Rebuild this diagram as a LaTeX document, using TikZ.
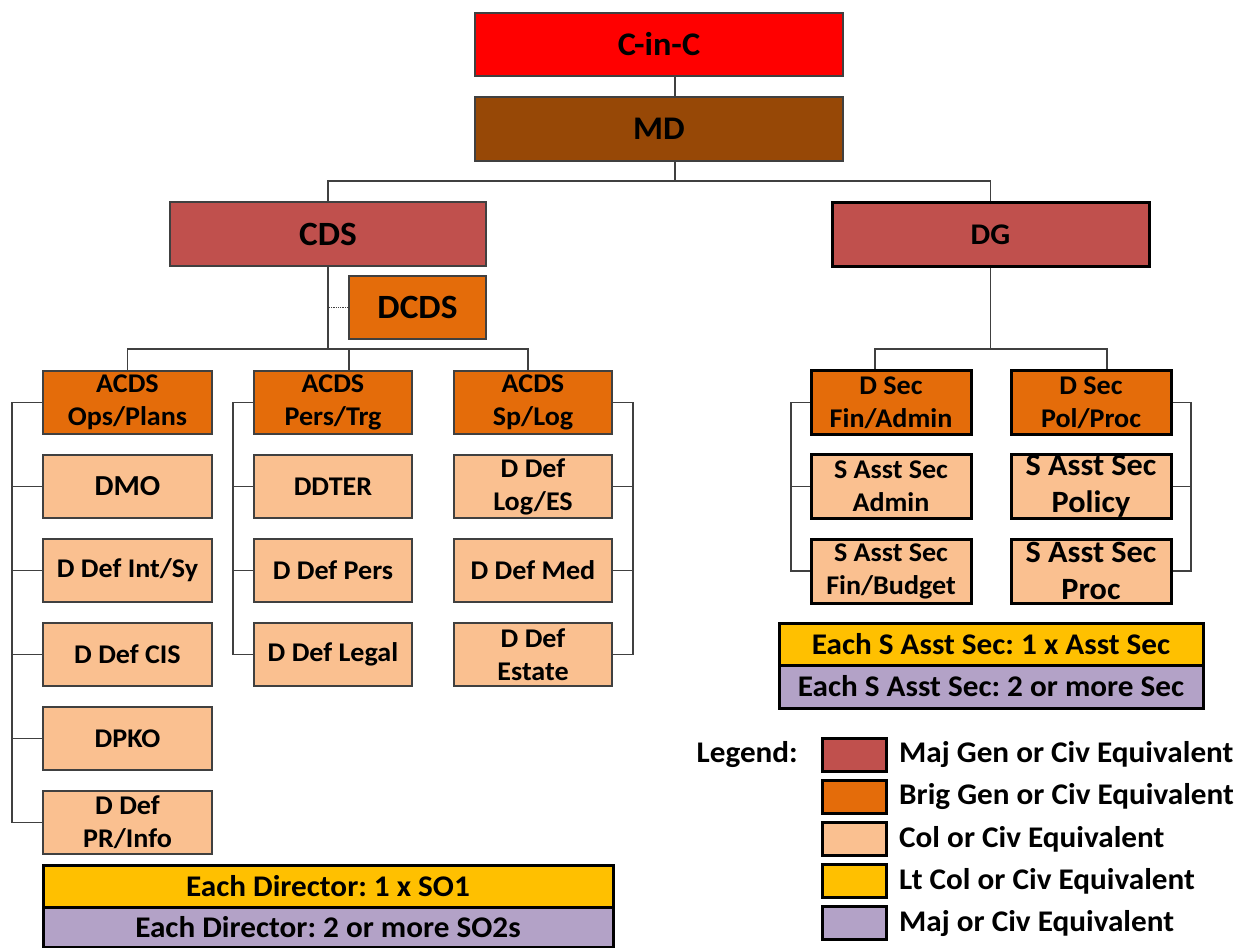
\documentclass[tikz,border=0pt]{standalone}
\usepackage{fontspec}
\setmainfont{Carlito}[FakeStretch=1.04]
\frenchspacing
\definecolor{cred}{HTML}{FF0000}
\definecolor{cbrown}{HTML}{974806}
\definecolor{cmaj}{HTML}{C0504D}
\definecolor{corange}{HTML}{E46C0A}
\definecolor{clight}{HTML}{FAC090}
\definecolor{cyellow}{HTML}{FFC000}
\definecolor{cpurple}{HTML}{B3A2C7}
\definecolor{lineg}{HTML}{404040}
\newcommand\myfs[2]{\fontsize{#1}{#2}\selectfont}
\tikzset{
  box/.style={draw=lineg, line width=1.3pt, inner sep=0pt, align=center, font=\bfseries\myfs{27}{33}},
  tbox/.style={box, draw=black, line width=3pt},
  conn/.style={draw=lineg, line width=1.3pt},
  lcol/.style={box, fill=clight, minimum width=169pt, minimum height=63pt},
  mcol/.style={box, fill=clight, minimum width=158pt, minimum height=63pt},
  scol/.style={tbox, fill=clight, minimum width=160pt, minimum height=64pt},
  swatch/.style={draw=black, line width=3pt, minimum width=64pt, minimum height=33pt, inner sep=0pt},
  legtxt/.style={anchor=west, inner sep=0pt, font=\bfseries\myfs{30}{36}}
}
\begin{document}
\begin{tikzpicture}[x=1pt,y=-1pt]
\useasboundingbox (0,0) rectangle (1254,948);
% top
\node[box, fill=cred, minimum width=368pt, minimum height=63pt, font=\bfseries\myfs{33}{40}] (cinc) at (659,44.5) {C-in-C};
\node[box, fill=cbrown, minimum width=368pt, minimum height=64pt, font=\bfseries\myfs{33}{40}] (md) at (659,129) {MD};
\node[box, fill=cmaj, minimum width=316pt, minimum height=64pt, font=\bfseries\myfs{34}{40}] (cds) at (328,234) {CDS};
\node[tbox, fill=cmaj, minimum width=317pt, minimum height=64pt, font=\bfseries\myfs{30}{36}] (dg) at (990.5,234.5) {DG};
\node[box, fill=corange, minimum width=137pt, minimum height=63pt, font=\bfseries\myfs{34}{40}] (dcds) at (417.5,307.5) {DCDS};
% ACDS
\node[lcol, fill=corange] (a1) at (127.5,402.5) {ACDS\\Ops/Plans};
\node[mcol, fill=corange] (a2) at (333,402.5) {ACDS\\Pers/Trg};
\node[mcol, fill=corange] (a3) at (533,402.5) {ACDS\\Sp/Log};
% left column
\node[lcol, font=\bfseries\myfs{29}{36}] (l1) at (127.5,486.5) {DMO};
\node[lcol] (l2) at (127.5,570.5) {D Def Int/Sy};
\node[lcol] (l3) at (127.5,654.5) {D Def CIS};
\node[lcol] (l4) at (127.5,738.5) {DPKO};
\node[lcol] (l5) at (127.5,822.5) {D Def\\PR/Info};
% middle column
\node[mcol] (m1) at (333,486.5) {DDTER};
\node[mcol] (m2) at (333,570.5) {D Def Pers};
\node[mcol] (m3) at (333,654.5) {D Def Legal};
% right column
\node[mcol] (r1) at (533,486.5) {D Def\\Log/ES};
\node[mcol] (r2) at (533,570.5) {D Def Med};
\node[mcol] (r3) at (533,654.5) {D Def\\Estate};
% DG side
\node[scol, fill=corange] (s1) at (891,402.5) {D Sec\\Fin/Admin};
\node[scol, fill=corange] (s2) at (1091,402.5) {D Sec\\Pol/Proc};
\node[scol] (t1) at (891,486.5) {S Asst Sec\\Admin};
\node[scol] (t2) at (891,571) {S Asst Sec\\Fin/Budget};
\node[scol, font=\bfseries\myfs{31}{37}] (u1) at (1091,486.5) {S Asst Sec\\Policy};
\node[scol, font=\bfseries\myfs{31}{37}] (u2) at (1091,571) {S Asst Sec\\Proc};
% bars
\node[tbox, fill=cyellow, minimum width=570pt, minimum height=42pt, font=\bfseries\myfs{30}{36}] (by1) at (328,886) {Each Director: 1 x SO1};
\node[tbox, fill=cpurple, minimum width=570pt, minimum height=40pt, font=\bfseries\myfs{30}{36}] (bp1) at (328,927) {Each Director: 2 or more SO2s};
\node[tbox, fill=cyellow, minimum width=424pt, minimum height=42pt, font=\bfseries\myfs{30}{36}] (by2) at (991,644) {Each S Asst Sec: 1 x Asst Sec};
\node[tbox, fill=cpurple, minimum width=424pt, minimum height=43pt, font=\bfseries\myfs{30}{36}] (bp2) at (991,686.5) {Each S Asst Sec: 2 or more Sec};
% legend
\node[anchor=east, inner sep=0pt, font=\bfseries\myfs{30}{36}] (leg) at (798,755) {Legend:};
\node[swatch, fill=cmaj] (w1) at (854,755) {};
\node[swatch, fill=corange] (w2) at (854,797) {};
\node[swatch, fill=clight] (w3) at (854,839) {};
\node[swatch, fill=cyellow] (w4) at (854,881) {};
\node[swatch, fill=cpurple] (w5) at (854,923) {};
\node[legtxt] (x1) at (899,755) {Maj Gen or Civ Equivalent};
\node[legtxt] (x2) at (899,797) {Brig Gen or Civ Equivalent};
\node[legtxt] (x3) at (899,839) {Col or Civ Equivalent};
\node[legtxt] (x4) at (899,881) {Lt Col or Civ Equivalent};
\node[legtxt] (x5) at (899,923) {Maj or Civ Equivalent};
% connector coordinates
\coordinate (mdx) at (675,181);
\coordinate (k2) at (349,349);
\coordinate (k3) at (528,349);
\coordinate (g1) at (875,349);
\coordinate (g2) at (1107,349);
\coordinate (lbx) at (12,0);
\coordinate (mbx) at (233,0);
\coordinate (rbx) at (633,0);
\coordinate (dlx) at (791,0);
\coordinate (drx) at (1191,0);
% connectors
\draw[conn] (cinc.south -| mdx) -- (md.north -| mdx);
\draw[conn] (md.south -| mdx) -- (mdx);
\draw[conn] (cds.north) |- (mdx) -| (dg.north);
\draw[conn] (cds.south) -- (cds.south |- k2);
\draw[conn] (a1.north) |- (k3) -- (a3.north -| k3);
\draw[conn] (k2) -- (a2.north -| k2);
\draw[conn, densely dotted] (dcds.west) -- (dcds.west -| cds.south);
\draw[conn] (dg.south) -- (dg.south |- g1);
\draw[conn] (s1.north -| g1) |- (g2) -- (s2.north -| g2);
% buses
\draw[conn] (a1.west) -| (l5.west -| lbx) -- (l5.west);
\foreach \n in {l1,l2,l3,l4} \draw[conn] (\n.west) -- (\n.west -| lbx);
\draw[conn] (a2.west) -| (m3.west -| mbx) -- (m3.west);
\foreach \n in {m1,m2} \draw[conn] (\n.west) -- (\n.west -| mbx);
\draw[conn] (a3.east) -| (r3.east -| rbx) -- (r3.east);
\foreach \n in {r1,r2} \draw[conn] (\n.east) -- (\n.east -| rbx);
\draw[conn] (s1.west) -| (t2.west -| dlx) -- (t2.west);
\draw[conn] (t1.west) -- (t1.west -| dlx);
\draw[conn] (s2.east) -| (u2.east -| drx) -- (u2.east);
\draw[conn] (u1.east) -- (u1.east -| drx);
\end{tikzpicture}
\end{document}
